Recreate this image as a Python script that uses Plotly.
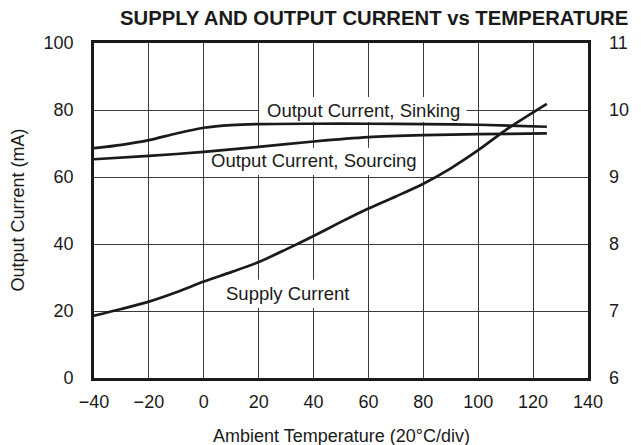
import plotly.graph_objects as go

# Ambient temperature sample points (°C)
temp_sink = [-40, -30, -20, -10, 0, 10, 20, 40, 60, 80, 100, 125]
sinking_ma = [68.6, 69.6, 71.0, 73.0, 74.7, 75.5, 75.8, 75.9, 75.9, 75.8, 75.6, 75.0]

temp_source = [-40, -20, 0, 20, 40, 60, 80, 100, 125]
sourcing_ma = [65.3, 66.3, 67.5, 69.0, 70.6, 71.9, 72.5, 72.8, 73.0]

temp_supply = [-40, -30, -20, -10, 0, 10, 20, 30, 40, 50, 60, 70, 80, 90, 100, 110, 125]
supply_ma = [6.93, 7.03, 7.14, 7.28, 7.44, 7.58, 7.73, 7.92, 8.12, 8.33, 8.53, 8.71, 8.90, 9.13, 9.40, 9.70, 10.09]

x_ticks = [-40, -20, 0, 20, 40, 60, 80, 100, 120, 140]
x_tick_text = ["\u221240", "\u221220", "0", "20", "40", "60", "80", "100", "120", "140"]

curve_labels = ["Output Current, Sinking", "Output Current, Sourcing", "Supply Current"]

FONT = "Liberation Sans, Arial, sans-serif"
INK = "#1a1a1a"
line_style = dict(color=INK, width=2.7, shape="spline", smoothing=0.8)

fig = go.Figure()
fig.add_trace(go.Scatter(x=temp_sink, y=sinking_ma, mode="lines", line=line_style,
                         showlegend=False, hoverinfo="skip"))
fig.add_trace(go.Scatter(x=temp_source, y=sourcing_ma, mode="lines", line=line_style,
                         showlegend=False, hoverinfo="skip"))
fig.add_trace(go.Scatter(x=temp_supply, y=supply_ma, mode="lines", yaxis="y2",
                         line=line_style, showlegend=False, hoverinfo="skip"))

# Curve labels: white panels hide the grid (but sit under the curves),
# then the text is placed on top.
label_spots = [
    # (text x, text y, panel x0, x1, y0, y1) in data units of the left axis
    (58.1, 80.0, 20.2, 95.7, 76.4, 83.9),
    (40.0, 64.9, 0.3, 79.0, 60.6, 68.7),
    (30.4, 25.2, 6.1, 54.7, 20.9, 29.3),
]
for text, (tx, ty, x0, x1, y0, y1) in zip(curve_labels, label_spots):
    fig.add_shape(type="rect", xref="x", yref="y", x0=x0, x1=x1, y0=y0, y1=y1,
                  fillcolor="white", line=dict(width=0), layer="between")
    fig.add_annotation(x=tx, y=ty, xref="x", yref="y", text=text,
                       showarrow=False,
                       font=dict(family=FONT, size=18.5, color=INK))

fig.add_annotation(text="<b>SUPPLY AND OUTPUT CURRENT vs TEMPERATURE</b>",
                   xref="paper", yref="paper", x=(375 - 94) / 496, y=1.0,
                   yshift=25, xanchor="center", yanchor="middle", showarrow=False,
                   font=dict(family=FONT, size=20.3, color=INK))

# Axis titles
fig.add_annotation(text="Ambient Temperature (20\u00b0C/div)", xref="paper",
                   yref="paper", x=(342 - 94) / 496, y=0, yshift=-58,
                   xanchor="center", yanchor="middle", showarrow=False,
                   font=dict(family=FONT, size=18, color=INK))
fig.add_annotation(text="Output Current (mA)", xref="paper", yref="paper",
                   x=0, xshift=-77, y=0.5, textangle=-90,
                   xanchor="center", yanchor="middle", showarrow=False,
                   font=dict(family=FONT, size=18, color=INK))

tick_font = dict(family=FONT, size=18, color=INK)
axis_common = dict(showgrid=True, gridcolor="#3a3a3a", gridwidth=1,
                   zeroline=False, ticks="", showline=True,
                   linecolor=INK, linewidth=2.6, mirror=True,
                   tickfont=tick_font)

fig.update_layout(
    width=641, height=445,
    margin=dict(l=94, r=51, t=43, b=67),
    paper_bgcolor="white", plot_bgcolor="white",
    xaxis=dict(range=[-40, 140], tickvals=x_ticks, ticktext=x_tick_text,
               ticklabelstandoff=6, **axis_common),
    yaxis=dict(range=[0, 100], dtick=20, ticklabelstandoff=14, **axis_common),
    yaxis2=dict(range=[6, 11], dtick=1, overlaying="y", side="right",
                showgrid=False, zeroline=False, ticks="", showline=False,
                ticklabelstandoff=20, tickfont=tick_font),
)

fig.write_html("out.html")
